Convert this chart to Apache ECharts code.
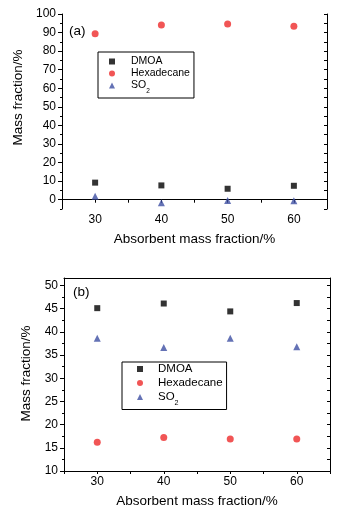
<!DOCTYPE html>
<html>
<head>
<meta charset="utf-8">
<script src="https://cdn.jsdelivr.net/npm/echarts@6/dist/echarts.min.js"></script>
<style>
  html, body { margin: 0; padding: 0; background: #fff; }
  #chart { width: 339px; height: 513px; }
</style>
</head>
<body>
<div id="chart"></div>
<script>
// absorbent mass fraction (x)
const absorbent = [30, 40, 50, 60];

// panel (a)
const dmoaA = [9.2, 7.7, 5.9, 7.5];
const hexA  = [89.4, 94.1, 94.6, 93.4];
const so2A  = [1.8, -1.6, -0.4, -0.5];

// panel (b)
const dmoaB = [45.1, 46.1, 44.4, 46.2];
const hexB  = [16.2, 17.2, 16.9, 16.9];
const so2B  = [38.6, 36.6, 38.6, 36.8];

// tick labels
const xLabels  = [30, 40, 50, 60];
const yLabelsA = [0, 10, 20, 30, 40, 50, 60, 70, 80, 90, 100];
const yLabelsB = [10, 15, 20, 25, 30, 35, 40, 45, 50];

const FONT = '"Liberation Sans", Arial, sans-serif';
const RED = '#ee2b2b', BLUE = '#3d4fa3', BLACK = '#000';

const chart = echarts.init(document.getElementById('chart'));

const pts = ys => absorbent.map((x, i) => [x, ys[i]]);
const range = (a, b, s) => { const r = []; for (let v = a; v <= b + 1e-9; v += s) r.push(+v.toFixed(2)); return r; };

function xAxes(grid) {
  return [{
    gridIndex: grid, type: 'value', position: 'bottom',
    min: 25, max: 65, interval: 5,
    name: 'Absorbent mass fraction/%', nameLocation: 'middle', nameGap: 23,
    nameTextStyle: { fontFamily: FONT, fontSize: 13.5, color: BLACK },
    axisLine: { lineStyle: { color: BLACK, width: 1 } },
    axisTick: { length: 3, lineStyle: { color: BLACK } },
    axisLabel: { customValues: xLabels, margin: 5, fontFamily: FONT, fontSize: 12, color: BLACK },
    splitLine: { show: false }
  }, {
    gridIndex: grid, type: 'value', position: 'top',
    min: 25, max: 65, interval: 5,
    axisLine: { lineStyle: { color: BLACK, width: 1 } },
    axisTick: { show: false }, axisLabel: { show: false }, splitLine: { show: false }
  }];
}

function yAxes(grid, min, max, labels, minor, rightTicks, gap, shift) {
  return [{
    gridIndex: grid, type: 'value', position: 'left', min, max,
    name: 'Mass fraction/%', nameLocation: 'middle', nameGap: gap,
    nameTextStyle: { fontFamily: FONT, fontSize: 13.5, color: BLACK, padding: [0, 0, 0, shift] },
    axisLine: { show: true, lineStyle: { color: BLACK, width: 1 } },
    axisTick: { customValues: labels, length: 4, lineStyle: { color: BLACK } },
    axisLabel: { customValues: labels, margin: 6, fontFamily: FONT, fontSize: 12, color: BLACK },
    splitLine: { show: false }
  }, {
    gridIndex: grid, type: 'value', position: 'left', min, max,
    axisLine: { show: false },
    axisTick: { customValues: minor, length: 2, lineStyle: { color: BLACK } },
    axisLabel: { show: false }, splitLine: { show: false }
  }, {
    gridIndex: grid, type: 'value', position: 'right', min, max,
    axisLine: { show: true, lineStyle: { color: BLACK, width: 1 } },
    axisTick: { customValues: rightTicks, inside: true, length: 3, lineStyle: { color: BLACK } },
    axisLabel: { show: false }, splitLine: { show: false }
  }];
}

function scatter(name, xi, yi, data, color, symbol, size) {
  return { name, type: 'scatter', xAxisIndex: xi, yAxisIndex: yi, data: pts(data),
    symbol, symbolSize: size, itemStyle: { color }, silent: true };
}

function legend(left, top, fs, padL, textPad, gap, pad) {
  return {
    orient: 'vertical', left, top,
    data: [{ name: 'DMOA', icon: 'rect' }, { name: 'Hexadecane', icon: 'circle' }, { name: 'SO2', icon: 'triangle' }],
    itemWidth: 6, itemHeight: 6, itemGap: gap,
    borderColor: BLACK, borderWidth: 1, borderRadius: 0,
    padding: [pad[0], pad[1], pad[2], padL],
    selectedMode: false,
    formatter: n => n === 'SO2' ? '{n|SO}{s|2}' : '{n|' + n + '}',
    textStyle: {
      padding: [0, 0, 0, textPad],
      rich: {
        n: { fontFamily: FONT, fontSize: fs, color: BLACK, lineHeight: 13 },
        s: { fontFamily: FONT, fontSize: fs * 0.62, color: BLACK, verticalAlign: 'bottom', lineHeight: 13, padding: [0, 0, -3, 0] }
      }
    }
  };
}

const option = {
  backgroundColor: '#fff',
  animation: false,
  grid: [
    { left: 62, top: 14, width: 265, height: 195 },
    { left: 64, top: 278, width: 266, height: 193 }
  ],
  xAxis: [...xAxes(0), ...xAxes(1)],
  yAxis: [
    ...yAxes(0, -5, 100, yLabelsA, range(-5, 95, 10), range(-5, 100, 5), 28, 28),
    ...yAxes(1, 10, 51.6, yLabelsB, range(12.5, 50, 5), range(10, 50, 2.5), 30, 2)
  ],
  legend: [
    legend(98, 52, 10.5, 11, 11, 1, [4, 4, 3]),
    legend(122, 362, 11.5, 15, 10, 2, [1, 4, 3])
  ],
  graphic: [
    { type: 'text', left: 69, top: 24, style: { text: '(a)', fontFamily: FONT, fontSize: 13.5, fill: BLACK } },
    { type: 'text', left: 73, top: 285, style: { text: '(b)', fontFamily: FONT, fontSize: 13.5, fill: BLACK } }
  ],
  series: [
    scatter('DMOA', 0, 0, dmoaA, BLACK, 'rect', 6),
    scatter('Hexadecane', 0, 0, hexA, RED, 'circle', 7),
    scatter('SO2', 0, 0, so2A, BLUE, 'triangle', 7),
    scatter('DMOA', 2, 3, dmoaB, BLACK, 'rect', 6),
    scatter('Hexadecane', 2, 3, hexB, RED, 'circle', 7),
    scatter('SO2', 2, 3, so2B, BLUE, 'triangle', 7)
  ]
};

chart.setOption(option);
</script>
</body>
</html>
